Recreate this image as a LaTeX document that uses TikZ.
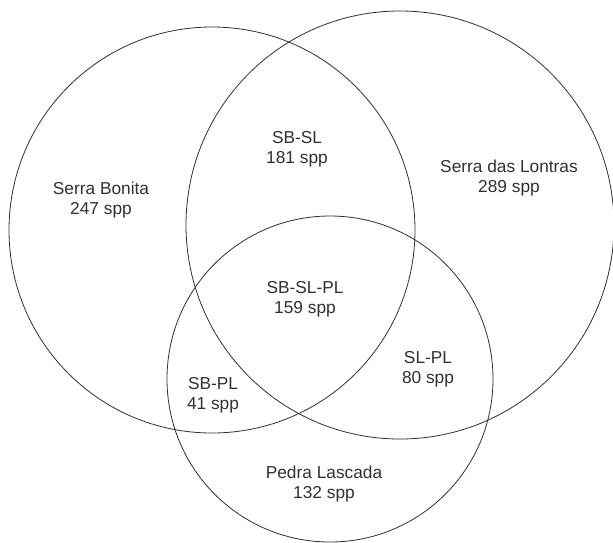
\documentclass[tikz,border=0pt]{standalone}
\usepackage{fontspec}
\setmainfont{Liberation Sans}
\usetikzlibrary{positioning}
\definecolor{tinta}{HTML}{303030}
\tikzset{
    conjunto/.style={draw=tinta, circle, inner sep=0pt, line width=0.8pt},
    rotulo/.style={align=center, text=tinta, font=\fontsize{17.3}{20.5}\selectfont},
}

\begin{document}
\begin{tikzpicture}[x=1pt, y=-1pt]
\useasboundingbox (0,0) rectangle (613,542);
% Conjuntos
\node[conjunto, minimum size=406pt] (sb) at (212,230) {};
\node[conjunto, minimum size=428pt] (sl) at (400,225) {};
\node[conjunto, minimum size=326pt] (pl) at (330,379) {};
% Rotulos
\node[rotulo] (rsb) at (101,200) {Serra Bonita\\247 spp};
\node[rotulo] (rsl) at (509,178) {Serra das Lontras\\289 spp};
\node[rotulo] (rpl) at (324,484) {Pedra Lascada\\132 spp};
\node[rotulo] (rsbsl) at (297,149) {SB-SL\\181 spp};
\node[rotulo] (rsbslpl) at (305,299) {SB-SL-PL\\159 spp};
\node[rotulo] (rslpl) at (428,369) {SL-PL\\80 spp};
\node[rotulo] (rsbpl) at (213,395) {SB-PL\\41 spp};
\end{tikzpicture}
\end{document}
